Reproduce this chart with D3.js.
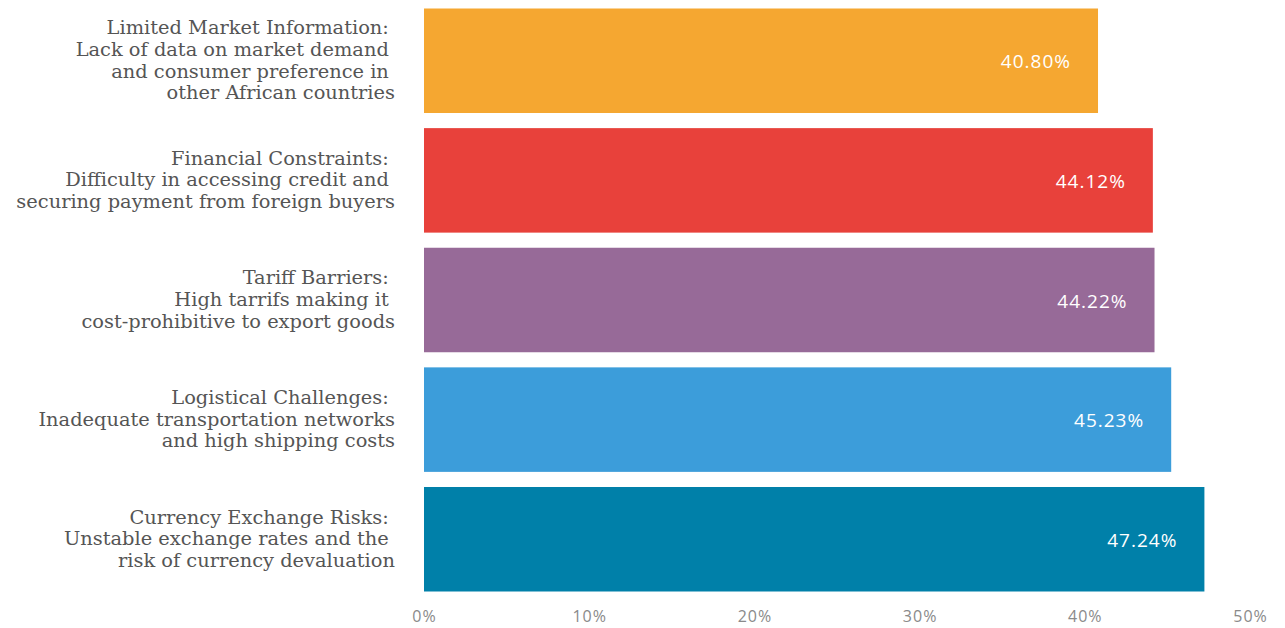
<!DOCTYPE html>
<html>
<head>
<meta charset="utf-8">
<script src="https://cdn.jsdelivr.net/npm/d3@7"></script>
<style>
  html, body { margin: 0; padding: 0; background: #ffffff; }
  svg { display: block; }
  .cat-label { white-space: pre; }
</style>
</head>
<body>
<svg id="chart" width="1285" height="628"></svg>
<script>
// Challenges in exporting to other African markets (share of respondents)
const categories = [
  "Limited Market Information",
  "Financial Constraints",
  "Tariff Barriers",
  "Logistical Challenges",
  "Currency Exchange Risks"
];

const labelLines = [
  ["Limited Market Information: ", "Lack of data on market demand ", "and consumer preference in ", "other African countries"],
  ["Financial Constraints: ", "Difficulty in accessing credit and ", "securing payment from foreign buyers"],
  ["Tariff Barriers: ", "High tarrifs making it ", "cost-prohibitive to export goods"],
  ["Logistical Challenges: ", "Inadequate transportation networks", "and high shipping costs"],
  ["Currency Exchange Risks: ", "Unstable exchange rates and the ", "risk of currency devaluation"]
];

const values = [40.80, 44.12, 44.22, 45.23, 47.24];

const colors = ["#F5A731", "#E8413B", "#976A98", "#3C9DDA", "#0080A9"];

const tickValues = [0, 10, 20, 30, 40, 50];

const svg = d3.select("#chart");

const x = d3.scaleLinear().domain([0, 50]).range([424, 1250]);
const y = d3.scaleBand()
  .domain(categories)
  .range([8.5, 591.5])
  .paddingInner(0.1264)
  .paddingOuter(0);

// Bars
svg.append("g").selectAll("rect")
  .data(categories)
  .join("rect")
  .attr("x", x(0))
  .attr("y", d => y(d))
  .attr("width", (d, i) => x(values[i]) - x(0))
  .attr("height", y.bandwidth())
  .attr("fill", (d, i) => colors[i]);

// Value labels inside the bar ends
svg.append("g").selectAll("text")
  .data(categories)
  .join("text")
  .attr("x", (d, i) => x(values[i]) - 27)
  .attr("y", d => y(d) + y.bandwidth() / 2 + 7.5)
  .attr("text-anchor", "end")
  .attr("fill", "#ffffff")
  .style("font-family", "'Open Sans', sans-serif")
  .style("font-size", "19px")
  .style("letter-spacing", "1px")
  .text((d, i) => values[i].toFixed(2) + "%");

// Category labels, multi-line, right aligned
const lineH = 21.6;
const catG = svg.append("g").selectAll("text")
  .data(categories)
  .join("text")
  .attr("class", "cat-label")
  .attr("text-anchor", "end")
  .attr("fill", "#555555")
  .style("font-family", "'DejaVu Serif', serif")
  .style("font-size", "19.4px")
  .attr("transform", (d, i) => {
    const n = labelLines[i].length;
    const cy = y(d) + y.bandwidth() / 2;
    const firstBaseline = cy - (n - 1) * lineH / 2 + 6;
    return `translate(395,${firstBaseline})`;
  });

catG.selectAll("tspan")
  .data((d, i) => labelLines[i])
  .join("tspan")
  .attr("x", 0)
  .attr("dy", (d, j) => j === 0 ? 0 : lineH)
  .text(d => d);

// Bottom axis (labels only)
const axis = d3.axisBottom(x)
  .tickValues(tickValues)
  .tickSize(0)
  .tickPadding(0)
  .tickFormat(d => d + "%");

const axisG = svg.append("g")
  .attr("transform", "translate(0,611)")
  .call(axis);
axisG.select(".domain").remove();
axisG.selectAll("text")
  .attr("fill", "#8a8a8a")
  .attr("dy", "0.71em")
  .style("font-family", "'Open Sans', sans-serif")
  .style("font-size", "16px")
  .style("letter-spacing", "1px");
</script>
</body>
</html>
